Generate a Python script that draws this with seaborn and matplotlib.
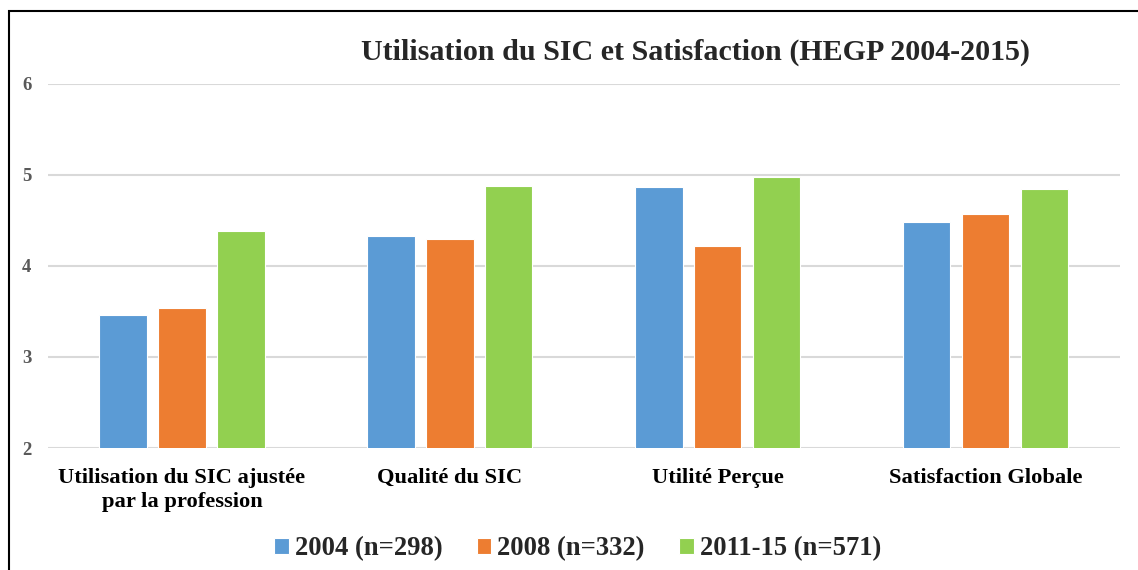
import matplotlib
matplotlib.use("Agg")
import matplotlib.pyplot as plt
import pandas as pd
import seaborn as sns
from matplotlib.patches import Rectangle

categories = [
    "Utilisation du SIC ajustée\npar la profession",
    "Qualité du SIC",
    "Utilité Perçue",
    "Satisfaction Globale",
]
series_names = ["2004 (n=298)", "2008 (n=332)", "2011-15 (n=571)"]
values_2004 = [3.46, 4.33, 4.87, 4.48]
values_2008 = [3.54, 4.30, 4.22, 4.57]
values_2011 = [4.38, 4.88, 4.98, 4.85]
colors = ["#5B9BD5", "#ED7D31", "#92D050"]

sns.set_theme(style="white")
plt.rcParams["font.family"] = ["Liberation Serif", "DejaVu Serif"]

rows = []
for name, vals in zip(series_names, [values_2004, values_2008, values_2011]):
    for cat, v in zip(categories, vals):
        rows.append({"Catégorie": cat, "Série": name, "Valeur": v})
df = pd.DataFrame(rows)

fig = plt.figure(figsize=(11.38, 5.70), dpi=100)
ax = fig.add_axes([0.0422, 0.214, 0.9418, 0.639])

sns.barplot(
    data=df, x="Catégorie", y="Valeur", hue="Série",
    palette=colors, saturation=1, width=0.66, gap=0.2,
    edgecolor="white", linewidth=0.8, ax=ax, zorder=3,
)

ax.set_ylim(2, 6)
ax.set_yticks([2, 3, 4, 5, 6])
ax.yaxis.grid(True, color="#D9D9D9", linewidth=1.5, zorder=0)
ax.set_axisbelow(True)
for s in ax.spines.values():
    s.set_visible(False)
ax.set_xlabel("")
ax.set_ylabel("")
ax.tick_params(axis="y", length=0, pad=12, labelsize=13.5, labelcolor="#595959")
ax.tick_params(axis="x", length=0, pad=14.5, labelsize=16.2, labelcolor="black")
for lab in ax.get_yticklabels() + ax.get_xticklabels():
    lab.set_fontweight("bold")
    lab.set_linespacing(1.25)

fig.text(0.611, 0.909, "Utilisation du SIC et Satisfaction (HEGP 2004-2015)",
         ha="center", va="center", fontsize=21.6, fontweight="bold")

handles, labels = ax.get_legend_handles_labels()
ax.legend_.remove()
fig.legend(handles, labels, loc="center", bbox_to_anchor=(0.5075, 0.037),
           ncol=3, frameon=False, handlelength=0.55, handleheight=0.55,
           handletextpad=0.22, columnspacing=1.29,
           prop={"weight": "bold", "size": 19.2})

fig.patches.append(Rectangle((0.0075, -0.1), 1.1, 1.08, transform=fig.transFigure,
                             fill=False, edgecolor="black", linewidth=1.5))

fig.savefig("out.png", dpi=100)
